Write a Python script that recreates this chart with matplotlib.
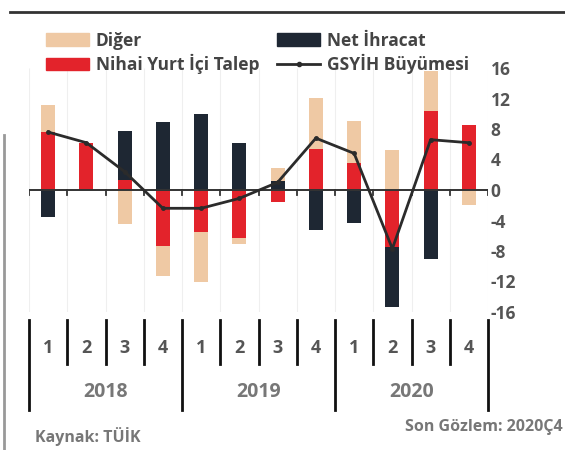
import matplotlib
matplotlib.use("Agg")
import numpy as np
import matplotlib.pyplot as plt
import matplotlib.transforms as mtransforms
from matplotlib.lines import Line2D
from matplotlib.patches import Patch

# Contributions to annual GDP growth (percentage points), 2018Q1-2020Q4
quarters = ["1", "2", "3", "4"] * 3
years = ["2018", "2019", "2020"]
domestic = [7.6, 6.2, 1.3, -7.3, -5.5, -6.3, -1.6, 5.4, 3.5, -7.5, 10.4, 8.5]
net_exports = [-3.6, 0.0, 6.4, 8.9, 10.0, 6.1, 1.2, -5.3, -4.3, -7.8, -9.0, 0.0]
other = [3.5, 0.0, -4.5, -4.0, -6.5, -0.8, 1.7, 6.7, 5.6, 5.3, 5.2, -2.0]
gdp = [7.6, 6.2, 2.4, -2.4, -2.4, -1.1, 1.0, 6.8, 4.8, -7.7, 6.6, 6.2]
y_ticks = [16, 12, 8, 4, 0, -4, -8, -12, -16]

RED = "#e3232b"
NAVY = "#1e2733"
BEIGE = "#efc9a4"
LINE = "#2b2b2b"
TEXT = "#555555"

plt.rcParams["font.family"] = ["Open Sans", "DejaVu Sans"]

W, H = 565, 450
fig = plt.figure(figsize=(W / 100, H / 100), dpi=100)
ax = fig.add_axes([29 / W, 138 / H, 459 / W, 244 / H])

x = np.arange(len(quarters))
pos = np.zeros(len(x))
neg = np.zeros(len(x))
series = [
    (domestic, RED, "Nihai Yurt İçi Talep"),
    (net_exports, NAVY, "Net İhracat"),
    (other, BEIGE, "Diğer"),
]
for vals, color, label in series:
    v = np.asarray(vals, dtype=float)
    bottom = np.where(v >= 0, pos, neg)
    ax.bar(x, v, width=0.37, bottom=bottom, color=color, zorder=2, linewidth=0)
    pos += np.clip(v, 0, None)
    neg += np.clip(v, None, 0)

ax.plot(x, gdp, color=LINE, lw=2, marker="o", ms=2.5, zorder=4)

ax.set_xlim(-0.5, len(x) - 0.5)
ax.set_ylim(-16, 16)
for s in ax.spines.values():
    s.set_visible(False)

bounds = np.arange(-0.5, len(x), 1.0)
ax.vlines(bounds, -16, 16, color="#efefef", lw=0.8, zorder=0)

# zero line with small ticks at quarter boundaries
ax.axhline(0, color="#333333", lw=1.4, zorder=3)
for b in bounds:
    ax.plot([b, b], [0, -0.6], color="#333333", lw=1.3, zorder=3)

ax.set_xticks([])
ax.yaxis.tick_right()
ax.set_yticks(y_ticks)
ax.set_yticklabels([str(t) for t in y_ticks])
ax.tick_params(axis="y", length=0, pad=2, labelsize=12.5, labelcolor=TEXT)
for lab in ax.get_yticklabels():
    lab.set_fontweight("bold")

# quarter / year category axis
trans = mtransforms.blended_transform_factory(ax.transData, ax.transAxes)
for i, b in enumerate(bounds):
    low = -0.40 if i % 4 == 0 else -0.215
    ax.plot([b, b], [-0.033, low], transform=trans, clip_on=False,
            color="#111111", lw=2)
for i, q in enumerate(quarters):
    ax.text(i, -0.148, q, transform=trans, ha="center", va="center",
            fontsize=13, color=TEXT, fontweight="bold")
for k, yr in enumerate(years):
    ax.text(4 * k + 1.5, -0.328, yr, transform=trans, ha="center", va="center",
            fontsize=14, color="#777777", fontweight="bold")

handles = [
    Patch(color=BEIGE, label="Diğer"),
    Patch(color=RED, label="Nihai Yurt İçi Talep"),
    Patch(color=NAVY, label="Net İhracat"),
    Line2D([], [], color=LINE, lw=2, marker="o", ms=3, label="GSYİH Büyümesi"),
]
fig.legend(handles=handles, ncol=2, loc="upper left",
           bbox_to_anchor=(30 / W, 1 - 16 / H), frameon=False,
           handlelength=2.5, handleheight=0.7, handletextpad=0.4,
           columnspacing=1.0, labelspacing=0.25,
           prop={"size": 12.5, "weight": "bold"}, labelcolor="#444444")

fig.text(35 / W, 1 - 437 / H, "Kaynak: TÜİK", ha="left", va="center",
         fontsize=11.5, color="#777777", fontweight="bold")
fig.text(563 / W, 1 - 427 / H, "Son Gözlem: 2020Ç4", ha="right", va="center",
         fontsize=11.5, color="#777777", fontweight="bold")

# top rule and left page border
fig.add_artist(Line2D([10 / W, 1.0], [1 - 12 / H, 1 - 12 / H],
                      color="#333333", lw=2))
fig.add_artist(Line2D([4 / W, 4 / W], [0, 1 - 135 / H],
                      color="#999999", lw=2))

fig.savefig("out.png", dpi=100)
